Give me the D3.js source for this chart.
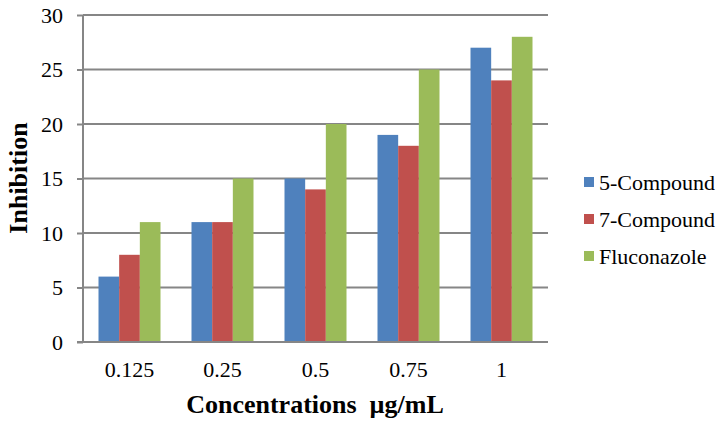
<!DOCTYPE html>
<html><head><meta charset="utf-8">
<script src="https://cdn.jsdelivr.net/npm/d3@7"></script>
<style>body{margin:0;background:#fff}svg{display:block}</style>
</head><body>
<svg id="c" width="727" height="426"></svg>
<script>
const categories = ["0.125","0.25","0.5","0.75","1"];
const seriesNames = ["5-Compound","7-Compound","Fluconazole"];
const compound5 = [6,11,15,19,27];
const compound7 = [8,11,14,18,24];
const fluconazole = [11,15,20,25,28];
const colors = ["#4F81BD","#C0504D","#9BBB59"];
const yTicks = [0,5,10,15,20,25,30];

const FONT = "'Liberation Serif'";
const seriesValues = [compound5, compound7, fluconazole];
const svg = d3.select("#c");
const L = 83, R = 548, T = 15, B = 342;
const x = d3.scaleBand().domain(categories).range([L,R]).paddingInner(0).paddingOuter(0);
const y = d3.scaleLinear().domain([0,30]).range([B,T]);
const gap = x.bandwidth()/4.5;
const x1 = d3.scaleBand().domain(seriesNames).range([0, gap*3]);
const grid = "#868686";

// gridlines
svg.append("g").selectAll("line").data(yTicks.filter(d=>d>0)).join("line")
  .attr("x1",L).attr("x2",R).attr("y1",d=>y(d)).attr("y2",d=>y(d))
  .attr("stroke",grid).attr("stroke-width",2);

// bars
const groups = svg.append("g").selectAll("g").data(categories).join("g")
  .attr("transform",d=>`translate(${x(d)+gap*0.75},0)`);
groups.selectAll("rect").data((c,i)=>seriesNames.map((s,j)=>({s,j,v:seriesValues[j][i]}))).join("rect")
  .attr("x",d=>x1(d.s)).attr("width",x1.bandwidth())
  .attr("y",d=>y(d.v)).attr("height",d=>y(0)-y(d.v))
  .attr("fill",d=>colors[d.j]);

// y axis
const ya = svg.append("g").attr("transform",`translate(${L},0)`)
  .call(d3.axisLeft(y).tickValues(yTicks).tickSize(6).tickPadding(14));
ya.attr("font-family",null).attr("font-size",null);
ya.select(".domain").attr("stroke",grid).attr("stroke-width",2).attr("d",`M0,${T}V${B}`);
ya.selectAll(".tick line").attr("stroke",grid).attr("stroke-width",2);
ya.selectAll(".tick text").style("font-size","22px").style("font-family",FONT).attr("fill","#000");

// x axis
const xa = svg.append("g").attr("transform",`translate(0,${B})`)
  .call(d3.axisBottom(x).tickSize(0).tickPadding(19));
xa.attr("font-family",null).attr("font-size",null);
xa.select(".domain").attr("stroke",grid).attr("stroke-width",2).attr("d",`M${L-6},0H${R}`);
xa.selectAll(".tick text").style("font-size","22px").style("font-family",FONT).attr("fill","#000");

// titles
svg.append("text").attr("x",315).attr("y",413).attr("text-anchor","middle")
  .style("font-size","26px").style("font-weight","bold").style("font-family",FONT).style("white-space","pre")
  .text("Concentrations  µg/mL");
svg.append("text").attr("transform","translate(27,178) rotate(-90)").attr("text-anchor","middle")
  .style("font-size","26px").style("font-weight","bold").style("font-family",FONT).text("Inhibition");

// legend
const lg = svg.append("g").selectAll("g").data(seriesNames).join("g")
  .attr("transform",(d,i)=>`translate(584,${182+i*37})`);
lg.append("rect").attr("x",0).attr("y",-5).attr("width",10).attr("height",10).attr("fill",(d,i)=>colors[i]);
lg.append("text").attr("x",15).attr("y",0).attr("dy","0.35em")
  .style("font-size","22px").style("font-family",FONT).text(d=>d);
</script>
</body></html>
